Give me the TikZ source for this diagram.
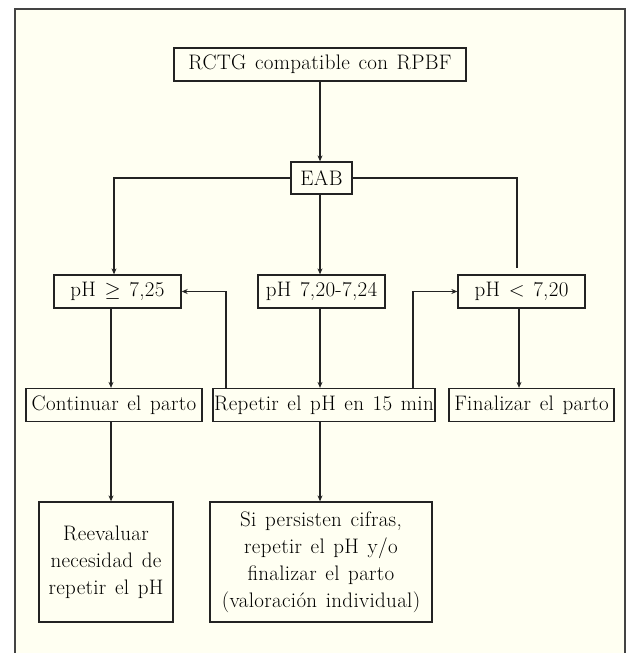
\documentclass[tikz,border=0pt]{standalone}
\usepackage{fontspec}
\setmainfont{Latin Modern Roman}[LetterSpace=1.5, WordSpace=1.3]
\usetikzlibrary{arrows.meta}
\definecolor{bgcream}{RGB}{255,255,242}
\definecolor{linegray}{RGB}{35,35,35}
\begin{document}
\begin{tikzpicture}[x=1pt,y=-1pt,
  box/.style={draw=linegray, line width=1.3pt, fill=bgcream, inner sep=0pt,
    font=\fontsize{21}{27}\selectfont, align=center, text=black},
  conn/.style={draw=linegray, line width=1.1pt},
  arr/.style={conn, -{Stealth[length=6pt,width=5pt]}}]
\useasboundingbox (0,0) rectangle (627,653);
\fill[white] (0,0) rectangle (627,653);
\begin{scope}
\clip (0,0) rectangle (627,653);
\draw[fill=bgcream, draw=linegray!85, line width=2pt] (15,9) rectangle (625,690);
\end{scope}

% column coordinates
\coordinate (cA) at (111,0);
\coordinate (cL) at (114,0);
\coordinate (cM) at (320,0);
\coordinate (cR) at (517,0);
\coordinate (cF) at (519,0);
\coordinate (fbL) at (226,0);
\coordinate (fbR) at (413,0);

\node[box, minimum width=292pt, minimum height=33pt] (rctg) at (320,64.5) {RCTG compatible con RPBF};
\node[box, minimum width=61pt, minimum height=32pt] (eab) at (321.5,178) {EAB};

\node[box, minimum width=127pt, minimum height=33pt] (phhi) at (117.5,291.5) {pH $\geq$ 7,25};
\node[box, minimum width=127pt, minimum height=33pt] (phmid) at (321.5,291.5) {pH 7,20-7,24};
\node[box, minimum width=127pt, minimum height=33pt] (phlo) at (521.5,291.5) {pH $<$ 7,20};

\node[box, minimum width=176pt, minimum height=33pt] (cont) at (114,405) {Continuar el parto};
\node[box, minimum width=222pt, minimum height=33pt] (rep) at (324,405) {Repetir el pH en 15 min};
\node[box, minimum width=165pt, minimum height=33pt] (fin) at (531.5,405) {Finalizar el parto};

\node[box, minimum width=134pt, minimum height=120pt] (reev) at (106,562) {Reevaluar\\necesidad de\\repetir el pH};
\node[box, minimum width=222pt, minimum height=120pt] (sip) at (321,562) {Si persisten cifras,\\repetir el pH y/o\\finalizar el parto\\(valoración individual)};

% connectors
\draw[arr] (rctg.south -| cM) -- (eab.north -| cM);
\draw[arr] (eab.west) -| (phhi.north -| cL);
\draw[arr] (eab.south -| cM) -- (phmid.north -| cM);
\draw[conn, shorten >=6pt] (eab.east) -| (phlo.north -| cR);

\draw[arr] (phhi.south -| cA) -- (cont.north -| cA);
\draw[arr] (phmid.south -| cM) -- (rep.north -| cM);
\draw[arr] (phlo.south -| cF) -- (fin.north -| cF);

\draw[arr] (rep.north -| fbL) |- (phhi.east);
\draw[arr] (rep.north -| fbR) |- (phlo.west);

\draw[arr] (cont.south -| cA) -- (reev.north -| cA);
\draw[arr] (rep.south -| cM) -- (sip.north -| cM);
\end{tikzpicture}
\end{document}
